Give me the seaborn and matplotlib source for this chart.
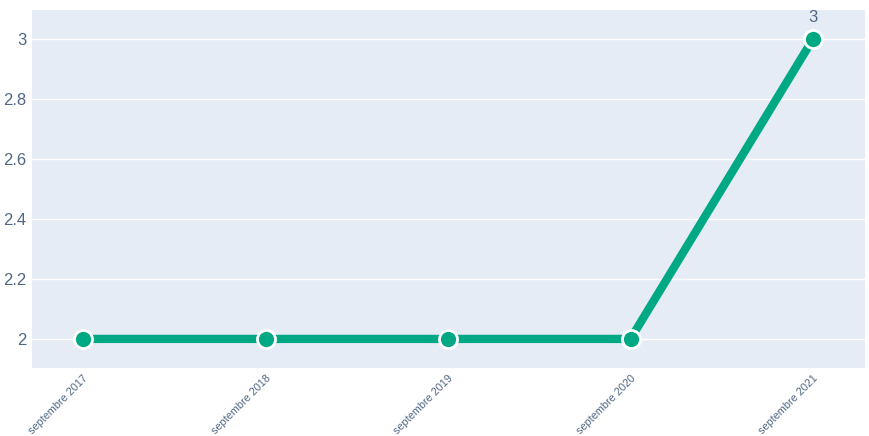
import pandas as pd
import seaborn as sns
import matplotlib.pyplot as plt

# Data
months = ['septembre 2017', 'septembre 2018', 'septembre 2019',
          'septembre 2020', 'septembre 2021']
values = [2, 2, 2, 2, 3]

df = pd.DataFrame({'month': months, 'value': values})
df['pos'] = range(len(df))

sns.set_theme(style='darkgrid', rc={
    'axes.facecolor': '#e5ecf6',
    'grid.color': 'white',
    'grid.linewidth': 1.0,
})
plt.rcParams['font.family'] = ['Liberation Sans', 'DejaVu Sans']

fig = plt.figure(figsize=(8.69, 4.36), dpi=100)
ax = fig.add_axes([32 / 869, 1 - 368 / 436, (865 - 32) / 869, (368 - 10) / 436])

sns.lineplot(
    data=df, x='pos', y='value', ax=ax,
    color='#00a884', linewidth=6,
    marker='o', markersize=13,
    markeredgecolor='white', markeredgewidth=2,
)

# Label on the last point only
last = df.iloc[-1]
ax.annotate(f"{last['value']:g}", (last['pos'], last['value']),
            xytext=(0, 10), textcoords='offset points',
            ha='center', va='bottom', fontsize=12, color='#506784')

ax.set_xlim(-0.28, 4.285)
ax.set_ylim(1.903, 3.097)
ax.set_yticks([2, 2.2, 2.4, 2.6, 2.8, 3])
ax.set_yticklabels(['2', '2.2', '2.4', '2.6', '2.8', '3'])
ax.set_xticks(df['pos'])
ax.set_xticklabels(months, rotation=45, ha='right', rotation_mode='anchor')
ax.grid(axis='x', visible=False)

ax.tick_params(axis='y', labelsize=12, labelcolor='#506784', length=0, pad=4)
ax.tick_params(axis='x', labelsize=7.8, labelcolor='#506784', length=0, pad=4)

ax.set_xlabel('')
ax.set_ylabel('')
for s in ax.spines.values():
    s.set_visible(False)

fig.savefig('out.png', dpi=100)
